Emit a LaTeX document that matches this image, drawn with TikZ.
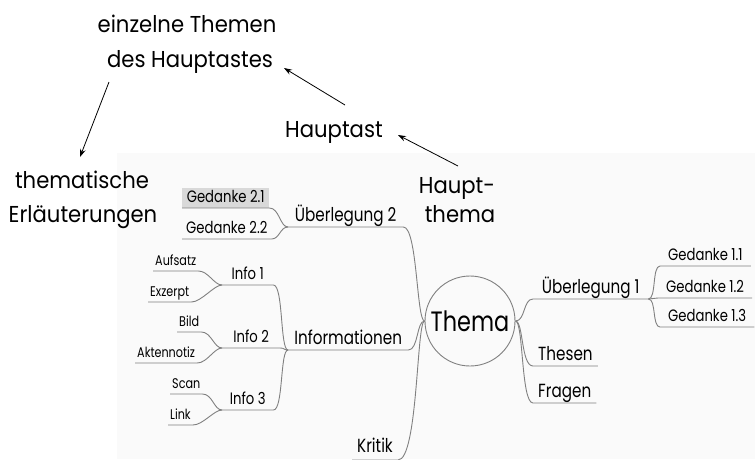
\documentclass[tikz,border=0pt]{standalone}
\usepackage{fontspec}
\setmainfont{Poppins}
\newfontfamily\mapfont[FakeStretch=0.8]{Poppins}
\newfontfamily\notefont[FakeStretch=0.92]{Poppins}
\usetikzlibrary{arrows.meta}
\definecolor{linegray}{RGB}{128,128,128}
\definecolor{shotbg}{RGB}{250,250,250}
\definecolor{markgray}{RGB}{217,217,217}

\begin{document}
\begin{tikzpicture}[x=1pt, y=-1pt,
    note/.style={anchor=base, inner sep=0pt, font=\notefont\fontsize{23}{23}\selectfont},
    arr/.style={-{Stealth[length=8pt, width=5.5pt]}, line width=0.8pt},
    topic/.style={anchor=south west, inner xsep=5pt, inner ysep=3pt, text depth=2pt,
      font=\mapfont\fontsize{19}{19}\selectfont},
    sub/.style={topic, inner xsep=4pt, font=\mapfont\fontsize{16.5}{16.5}\selectfont},
    leaf/.style={topic, inner xsep=2pt, font=\mapfont\fontsize{14}{14}\selectfont},
    mm/.style={draw=linegray, line width=0.9pt},
  ]
    \useasboundingbox (0,0) rectangle (755,459);
    % スクリーンショットの背景
    \fill[shotbg] (117,153) rectangle (755,459);

    % 説明のテキスト
    \node[note] (themenA) at (187,32) {einzelne Themen};
    \node[note] (themenB) at (190,67) {des Hauptastes};
    \node[note] (hauptast) at (334,137) {Hauptast};
    \node[note] (erlA) at (82,188) {thematische};
    \node[note] (erlB) at (83,222) {Erläuterungen};
    \node[note] (hthemaA) at (457,193) {Haupt-};
    \node[note] (hthemaB) at (460,222) {thema};

    % 矢印の端点
    \coordinate (p1) at (345,105);
    \coordinate (q1) at (284,68);
    \coordinate (p2) at (458,166);
    \coordinate (q2) at (398,135);
    \coordinate (p3) at (109,82);
    \coordinate (q3) at (80,157);
    \draw[arr] (p1) -- (q1);
    \draw[arr] (p2) -- (q2);
    \draw[arr] (p3) -- (q3);

    % マインドマップのノード
    \node[circle, mm, minimum size=90pt, inner sep=0pt,
      font=\mapfont\fontsize{28}{28}\selectfont] (thema) at (470,321) {Thema};

    \node[topic, minimum width=115pt] (ueb1) at (533,299) {Überlegung 1};
    \node[topic] (thesen) at (533,366) {Thesen};
    \node[topic] (fragen) at (533,403) {Fragen};
    \node[sub, inner xsep=8pt] (g11) at (660,266) {Gedanke 1.1};
    \node[sub, inner xsep=8pt] (g12) at (658,298) {Gedanke 1.2};
    \node[sub, inner xsep=8pt] (g13) at (660,327) {Gedanke 1.3};

    \node[topic, minimum width=115pt] (ueb2) at (288,227) {Überlegung 2};
    \node[topic, minimum width=120pt] (inf) at (288,350) {Informationen};
    \node[topic, inner ysep=5pt] (kritik) at (352,460) {Kritik};
    \node[sub, fill=markgray, minimum width=87pt] (g21) at (182,208) {Gedanke 2.1};
    \node[sub] (g22) at (182,239) {Gedanke 2.2};
    \node[sub, minimum width=51pt] (info1) at (222,285) {Info 1};
    \node[sub, minimum width=58pt] (info2) at (222,348) {Info 2};
    \node[sub, minimum width=51pt] (info3) at (222,410) {Info 3};
    \node[leaf] (aufsatz) at (153,271) {Aufsatz};
    \node[leaf] (exzerpt) at (148,302) {Exzerpt};
    \node[leaf] (bild) at (177,332) {Bild};
    \node[leaf] (akten) at (135,363) {Aktennotiz};
    \node[leaf] (scan) at (170,394) {Scan};
    \node[leaf] (link) at (168,425) {Link};

    % 右側の枝
    \draw[mm] (thema.east) .. controls +(10,0) and +(-10,0) .. (ueb1.south west) -- (ueb1.south east);
    \draw[mm] (thema.east) .. controls +(8,0) and +(-12,0) .. (thesen.south west) -- (thesen.south east);
    \draw[mm] (thema.east) .. controls +(8,0) and +(-12,0) .. (fragen.south west) -- (fragen.south east);
    \draw[mm] (ueb1.south east) .. controls +(8,0) and +(-8,0) .. (g11.south west) -- (g11.south east);
    \draw[mm] (ueb1.south east) .. controls +(5,0) and +(-5,0) .. (g12.south west) -- (g12.south east);
    \draw[mm] (ueb1.south east) .. controls +(8,0) and +(-8,0) .. (g13.south west) -- (g13.south east);

    % 左側の枝
    \draw[mm] (thema.west) .. controls +(-8,0) and +(14,0) .. (ueb2.south east) -- (ueb2.south west);
    \draw[mm] (thema.west) .. controls +(-8,0) and +(10,0) .. (inf.south east) -- (inf.south west);
    \draw[mm] (thema.west) .. controls +(-8,0) and +(20,0) .. (kritik.south east) -- (kritik.south west);
    \draw[mm] (ueb2.south west) .. controls +(-8,0) and +(10,0) .. (g21.south east) -- (g21.south west);
    \draw[mm] (ueb2.south west) .. controls +(-8,0) and +(8,0) .. (g22.south east) -- (g22.south west);
    \draw[mm] (inf.south west) .. controls +(-8,0) and +(10,0) .. (info1.south east) -- (info1.south west);
    \draw[mm] (inf.south west) .. controls +(-4,0) and +(4,0) .. (info2.south east) -- (info2.south west);
    \draw[mm] (inf.south west) .. controls +(-8,0) and +(10,0) .. (info3.south east) -- (info3.south west);
    \draw[mm] (info1.south west) .. controls +(-8,0) and +(10,0) .. (aufsatz.south east) -- (aufsatz.south west);
    \draw[mm] (info1.south west) .. controls +(-8,0) and +(10,0) .. (exzerpt.south east) -- (exzerpt.south west);
    \draw[mm] (info2.south west) .. controls +(-8,0) and +(10,0) .. (bild.south east) -- (bild.south west);
    \draw[mm] (info2.south west) .. controls +(-8,0) and +(10,0) .. (akten.south east) -- (akten.south west);
    \draw[mm] (info3.south west) .. controls +(-8,0) and +(10,0) .. (scan.south east) -- (scan.south west);
    \draw[mm] (info3.south west) .. controls +(-8,0) and +(10,0) .. (link.south east) -- (link.south west);
  \end{tikzpicture}
\end{document}
